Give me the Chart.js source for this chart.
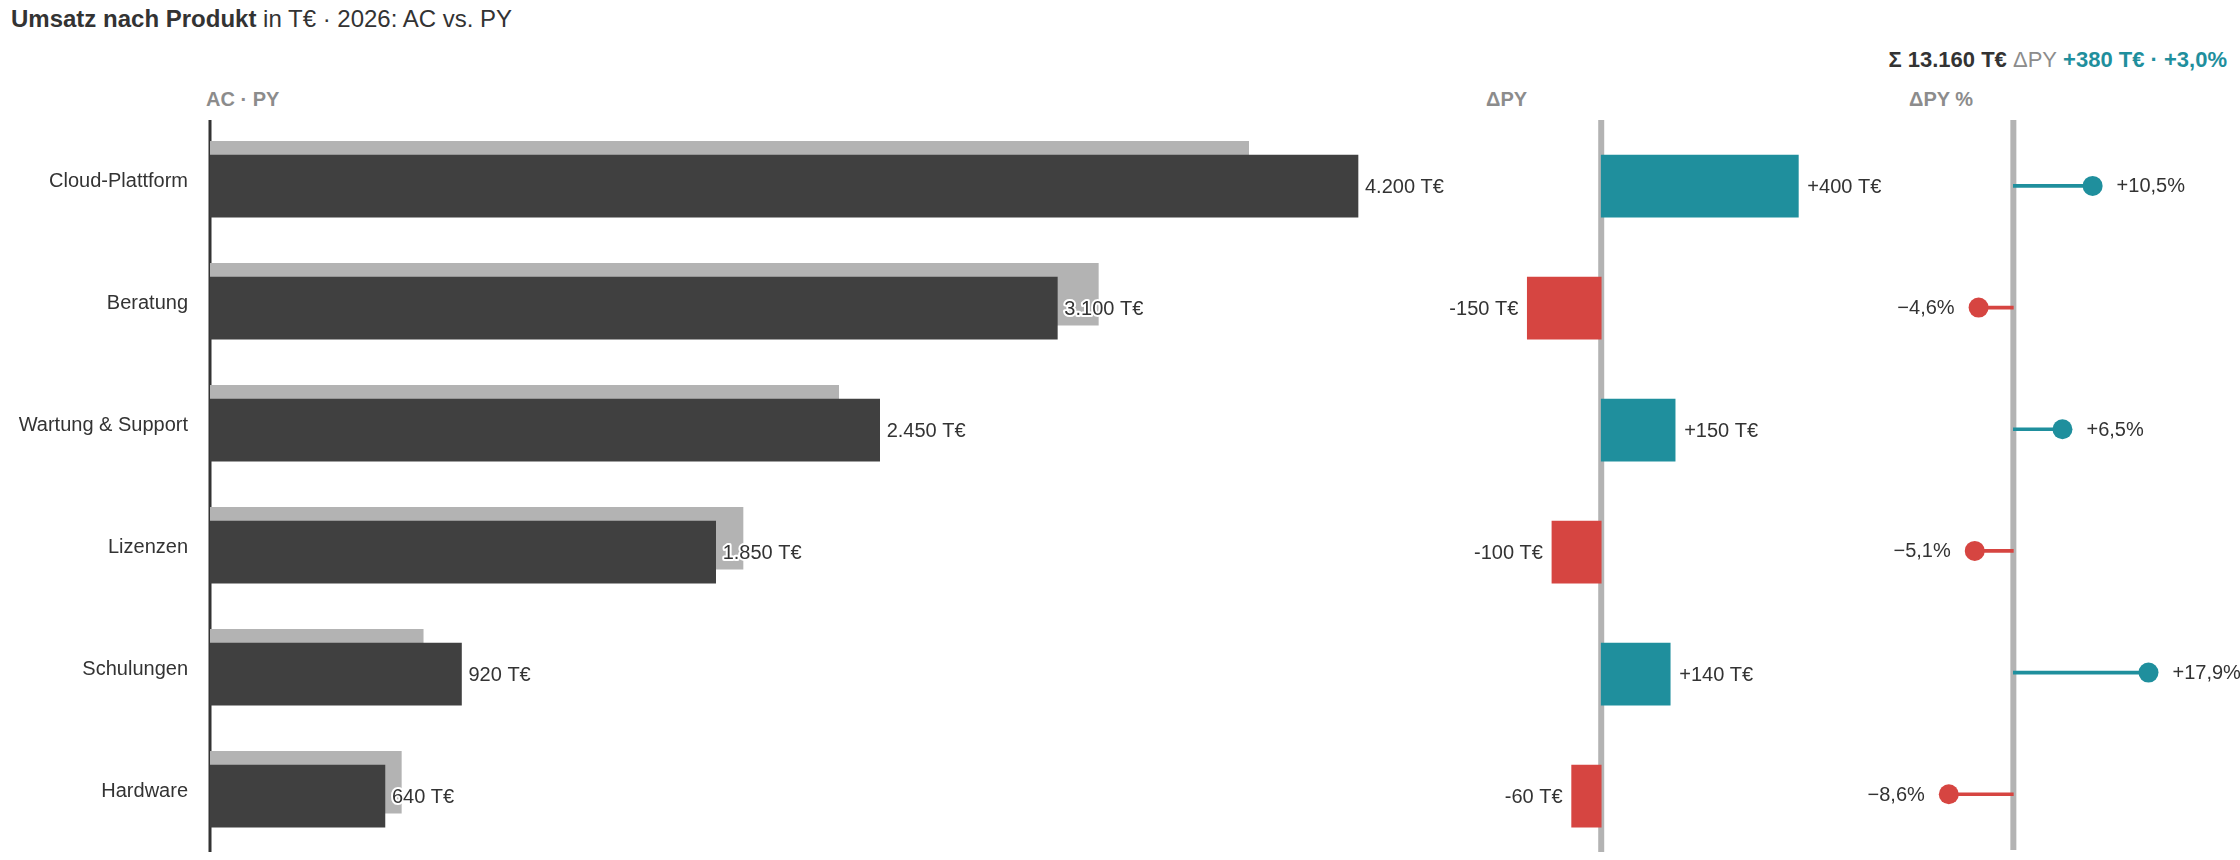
<!DOCTYPE html>
<html lang="de">
<head>
<meta charset="utf-8">
<title>Umsatz nach Produkt</title>
<script src="https://cdn.jsdelivr.net/npm/chart.js@4.4.1/dist/chart.umd.min.js"></script>
<style>
  body { margin: 0; background: #fff; font-family: "Liberation Sans", Arial, sans-serif; color: #333; }
  #page { position: relative; width: 2240px; height: 860px; overflow: hidden; }
  #page canvas { position: absolute; top: 0; }
  .txt { position: absolute; white-space: nowrap; }
  #title { left: 11px; top: 7px; font-size: 24px; line-height: 24px; }
  #summary { right: 13px; top: 49px; font-size: 22px; line-height: 22px; font-weight: bold; }
  .head { top: 89px; font-size: 20px; line-height: 20px; font-weight: bold; color: #8c8c8c; }
</style>
</head>
<body>
<div id="page">
  <div id="title" class="txt"><b>Umsatz nach Produkt</b> in T€ · 2026: AC vs. PY</div>
  <div id="summary" class="txt"></div>
  <div class="txt head" style="left:206px">AC · PY</div>
  <div class="txt head" style="left:1486px">ΔPY</div>
  <div class="txt head" style="left:1909px">ΔPY %</div>
  <canvas id="mainChart" width="1450" height="860" style="left:0"></canvas>
  <canvas id="deltaChart" width="480" height="860" style="left:1420px"></canvas>
  <canvas id="pctChart" width="420" height="860" style="left:1820px"></canvas>
</div>
<script>
// Daten (T€)
const products = ['Cloud-Plattform', 'Beratung', 'Wartung & Support', 'Lizenzen', 'Schulungen', 'Hardware'];
const acValues = [4200, 3100, 2450, 1850, 920, 640];
const pyValues = [3800, 3250, 2300, 1950, 780, 700];

const colors = {
  ac: '#404040',
  py: '#b3b3b3',
  pos: '#1f8f9d',
  neg: '#d64541',
  text: '#333333',
  axis: '#333333',
  zero: '#b3b3b3',
};

// vertikaler Versatz der Balken innerhalb einer Zeile
const AC_SHIFT = 0.042;
const PY_SHIFT = -0.072;

const deltas = acValues.map((v, i) => v - pyValues[i]);
const pcts = deltas.map((d, i) => (d / pyValues[i]) * 100);

const fmtThousands = (v) => String(Math.abs(v)).replace(/\B(?=(\d{3})+(?!\d))/g, '.');
const fmtDelta = (v) => (v >= 0 ? '+' : '-') + fmtThousands(v) + ' T€';
const fmtPct = (v) => (v >= 0 ? '+' : '\u2212') + Math.abs(v).toFixed(1).replace('.', ',') + '%';
const signColor = (v) => (v >= 0 ? colors.pos : colors.neg);

// Kopfzeile mit Summe
const sumAc = acValues.reduce((a, b) => a + b, 0);
const sumPy = pyValues.reduce((a, b) => a + b, 0);
const sumDelta = sumAc - sumPy;
document.getElementById('summary').innerHTML =
  `<span style="color:${colors.text}">Σ ${fmtThousands(sumAc)} T€</span> ` +
  `<span style="color:#8c8c8c;font-weight:normal">ΔPY</span> ` +
  `<span style="color:${signColor(sumDelta)}">${fmtDelta(sumDelta)} · ${fmtPct((sumDelta / sumPy) * 100)}</span>`;

Chart.defaults.font.family = '"Liberation Sans", Arial, sans-serif';
Chart.defaults.font.size = 20;
Chart.defaults.color = colors.text;

// Null-Linie hinter den Balken
const zeroLinePlugin = {
  id: 'zeroLine',
  beforeDatasetsDraw(chart, args, opts) {
    const { ctx, chartArea, scales } = chart;
    const x = scales.x.getPixelForValue(0);
    ctx.save();
    ctx.strokeStyle = opts.color;
    ctx.lineWidth = opts.width;
    ctx.beginPath();
    ctx.moveTo(x, chartArea.top);
    ctx.lineTo(x, chartArea.bottom);
    ctx.stroke();
    ctx.restore();
  },
};

// Wertbeschriftungen an den Balkenenden
const valueLabelPlugin = {
  id: 'valueLabels',
  afterDatasetsDraw(chart, args, opts) {
    const { ctx } = chart;
    const meta = chart.getDatasetMeta(opts.datasetIndex);
    ctx.save();
    ctx.font = '20px "Liberation Sans", Arial, sans-serif';
    ctx.textBaseline = 'middle';
    meta.data.forEach((el, i) => {
      const right = opts.isRight(i);
      const x = right ? el.x + opts.gap : el.x - opts.gap;
      const text = opts.text(i);
      ctx.textAlign = right ? 'left' : 'right';
      if (opts.halo) {
        ctx.lineJoin = 'round';
        ctx.lineWidth = 4;
        ctx.strokeStyle = '#ffffff';
        ctx.strokeText(text, x, el.y + 1);
      }
      ctx.fillStyle = colors.text;
      ctx.fillText(text, x, el.y + 1);
    });
    ctx.restore();
  },
};

function rowScale(showLabels) {
  const scale = {
    type: 'linear',
    min: -0.5,
    max: 5.5,
    reverse: true,
    offset: false,
    display: showLabels,
    afterBuildTicks: (s) => { s.ticks = products.map((_, i) => ({ value: i })); },
    grid: { display: false, drawTicks: false, offset: false },
    border: { display: false },
    ticks: {
      autoSkip: false,
      padding: 22,
      color: colors.text,
      font: { size: 20 },
      callback: (v) => products[v],
    },
  };
  if (showLabels) {
    scale.afterFit = (s) => {
      s.width = 210;
      s.paddingTop = 0;
      s.paddingBottom = 0;
    };
  }
  return scale;
}

function baseOptions(padding, xMin, xMax, showLabels) {
  return {
    indexAxis: 'y',
    responsive: false,
    animation: false,
    devicePixelRatio: 1,
    layout: { padding },
    events: [],
    scales: {
      x: { type: 'linear', display: false, min: xMin, max: xMax, offset: false },
      y: rowScale(showLabels),
    },
    plugins: { legend: { display: false }, tooltip: { enabled: false } },
  };
}

// AC vs. PY
new Chart(document.getElementById('mainChart'), {
  type: 'bar',
  data: {
    datasets: [
      {
        label: 'AC',
        data: acValues.map((v, i) => ({ x: v, y: i + AC_SHIFT })),
        backgroundColor: colors.ac,
        barThickness: 62,
        grouped: false,
      },
      {
        label: 'PY',
        data: pyValues.map((v, i) => ({ x: v, y: i + PY_SHIFT })),
        backgroundColor: colors.py,
        barThickness: 62,
        grouped: false,
      },
    ],
  },
  options: (() => {
    const o = baseOptions({ left: 0, right: 10, top: 120, bottom: 8 }, 0, 4500, true);
    o.plugins.zeroLine = { color: colors.axis, width: 3 };
    o.plugins.valueLabels = {
      datasetIndex: 0, gap: 7, halo: true,
      isRight: () => true,
      text: (i) => fmtThousands(acValues[i]) + ' T€',
    };
    return o;
  })(),
  plugins: [zeroLinePlugin, valueLabelPlugin],
});

// ΔPY absolut
new Chart(document.getElementById('deltaChart'), {
  type: 'bar',
  data: {
    datasets: [{
      label: 'ΔPY',
      data: deltas.map((v, i) => ({ x: v, y: i + AC_SHIFT })),
      backgroundColor: deltas.map(signColor),
      barThickness: 62,
      grouped: false,
    }],
  },
  options: (() => {
    const o = baseOptions({ left: 58, right: 77, top: 120, bottom: 8 }, -250, 450, false);
    o.plugins.zeroLine = { color: colors.zero, width: 6 };
    o.plugins.valueLabels = {
      datasetIndex: 0, gap: 9, halo: false,
      isRight: (i) => deltas[i] >= 0,
      text: (i) => fmtDelta(deltas[i]),
    };
    return o;
  })(),
  plugins: [zeroLinePlugin, valueLabelPlugin],
});

// ΔPY % als Lollipop
new Chart(document.getElementById('pctChart'), {
  type: 'bar',
  data: {
    datasets: [
      {
        type: 'scatter',
        label: 'Punkt',
        data: pcts.map((v, i) => ({ x: v, y: i + AC_SHIFT })),
        pointRadius: 10,
        pointBorderWidth: 0,
        pointBackgroundColor: pcts.map(signColor),
        showLine: false,
        clip: false,
      },
      {
        label: 'Stiel',
        data: pcts.map((v, i) => ({ x: v, y: i + AC_SHIFT })),
        backgroundColor: pcts.map(signColor),
        barThickness: 3,
        grouped: false,
      },
    ],
  },
  options: (() => {
    const o = baseOptions({ left: 103, right: 61, top: 120, bottom: 8 }, -12, 22, false);
    o.plugins.zeroLine = { color: colors.zero, width: 6 };
    o.plugins.valueLabels = {
      datasetIndex: 0, gap: 24, halo: false,
      isRight: (i) => pcts[i] >= 0,
      text: (i) => fmtPct(pcts[i]),
    };
    return o;
  })(),
  plugins: [zeroLinePlugin, valueLabelPlugin],
});
</script>
</body>
</html>
